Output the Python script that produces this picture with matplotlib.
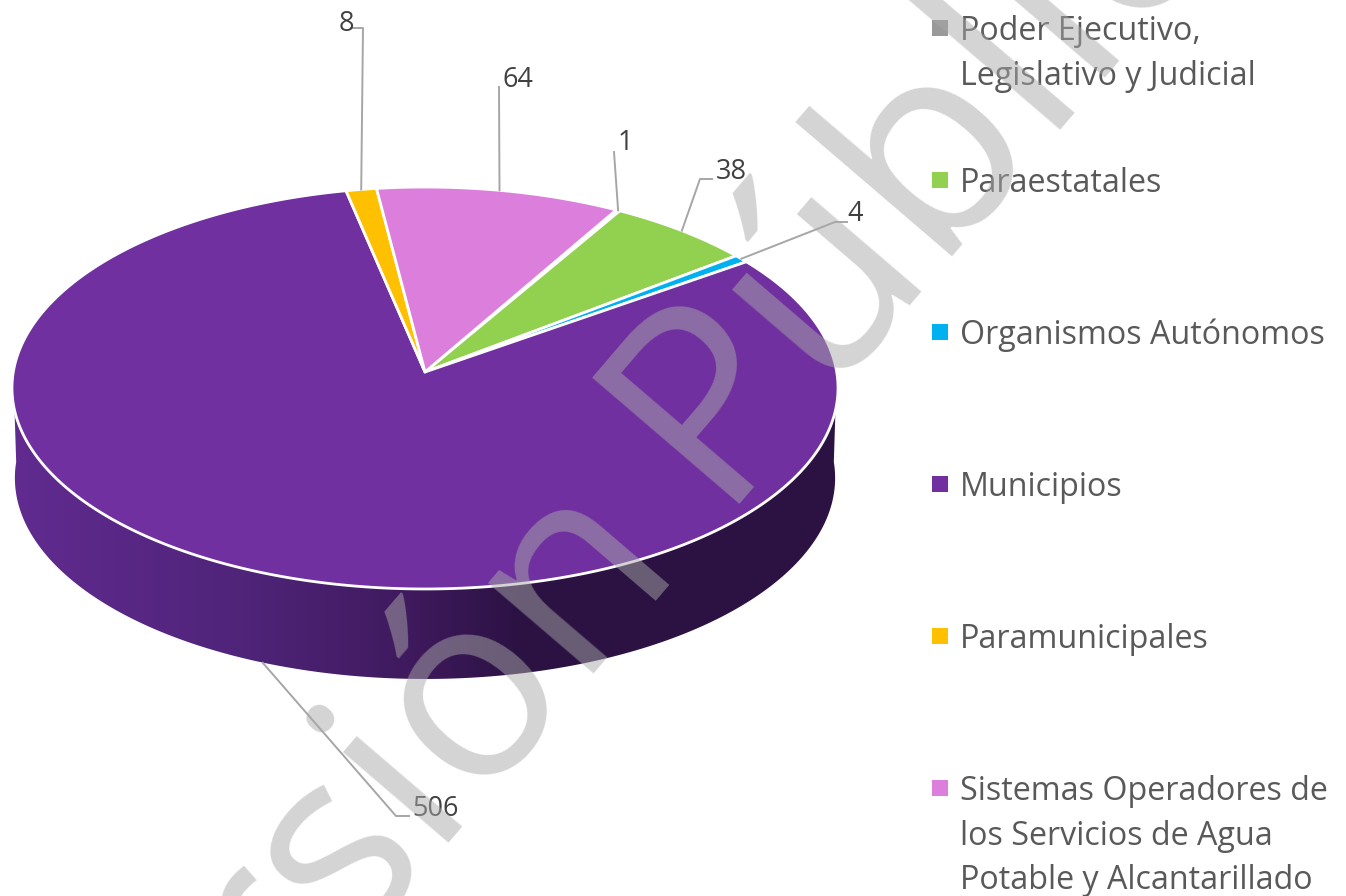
### Entidades por tipo: pastel 3D con marca de agua
import numpy as np
import matplotlib
matplotlib.use("Agg")
import matplotlib.pyplot as plt
from matplotlib.colors import LinearSegmentedColormap
from matplotlib.patches import Polygon

### Datos
categorias = ["Poder Ejecutivo,\nLegislativo y Judicial", "Paraestatales", "Organismos Autónomos",
              "Municipios", "Paramunicipales",
              "Sistemas Operadores de\nlos Servicios de Agua\nPotable y Alcantarillado"]
valores = np.array([1, 38, 4, 506, 8, 64])
etiquetas = ["1", "38", "4", "506", "8", "64"]
colores = ["#999999", "#92d050", "#00b0f0", "#7030a0", "#ffc000", "#dc7fdc"]

### Geometría del pastel (pixeles)
CX, CY = 425, 372
A, B, K = 411.7, 199.7, 0.0796
PROF = 90
INICIO = 29.8  # grados, sentido horario desde arriba

# posición del texto de cada etiqueta y codo de su línea guía
pos_texto = [(625, 143), (731, 172), (855, 214), (435, 809), (346, 24), (518, 80)]
codos = [[(614, 152)], [(700, 179), (712, 179)], [(835, 222), (847, 222)],
         [(396, 816), (409, 816)], [(363, 28), (351, 28)], [(499, 87)]]


def proyecta(grados, escala=1.0, dy=0.0):
    t = np.radians(grados)
    u, v = np.sin(t), np.cos(t)
    d = 1 + K * v
    return CX + escala * A * u / d, CY - B * v / d + dy


fig = plt.figure(figsize=(13.46, 8.96), dpi=100)
ax = fig.add_axes([0, 0, 1, 1])
plt.rcParams["font.family"] = ["Open Sans", "DejaVu Sans"]

### Pared lateral con degradado
arco = np.linspace(90, 270, 400)
xs, ys = proyecta(arco)
xb, yb = proyecta(arco, 0.993, PROF)
pared = Polygon(np.column_stack([np.r_[xs, xb[::-1]], np.r_[ys, yb[::-1]]]), closed=True,
                facecolor="none", edgecolor="none", transform=ax.transData)
ax.add_patch(pared)
degradado = LinearSegmentedColormap.from_list("lado", [(0, "#2b1242"), (0.38, "#2b1242"), (0.52, "#3f1a5e"),
                                                       (0.72, "#4f2479"), (1, "#612b90")])
img = ax.imshow(np.linspace(0, 1, 256)[None, :], extent=(838, 12, 700, 380), cmap=degradado,
                aspect="auto", zorder=1)
img.set_clip_path(pared)

### Rebanadas
fin = INICIO + np.cumsum(valores) / valores.sum() * 360
ini = np.r_[INICIO, fin[:-1]]
for a0, a1, c in zip(ini, fin, colores):
    t = np.linspace(a0, a1, max(int((a1 - a0) * 4), 2))
    px, py = proyecta(t)
    ax.fill(np.r_[CX, px], np.r_[CY, py], facecolor=c, edgecolor="white", linewidth=2.0, zorder=2,
            joinstyle="round")

### Etiquetas y líneas guía
for i, txt in enumerate(etiquetas):
    medio = (ini[i] + fin[i]) / 2
    x0, y0 = proyecta(medio, dy=PROF if categorias[i] == "Municipios" else 0)
    camino = [(x0, y0)] + codos[i]
    ax.plot([p[0] for p in camino], [p[1] for p in camino], color="#a6a6a6", linewidth=1.4, zorder=3)
    ax.text(pos_texto[i][0], pos_texto[i][1], txt, color="#404040", fontsize=19.5, ha="center", va="center", zorder=4)

### Leyenda
for i, nombre in enumerate(categorias):
    y = 28 + i * 152
    ax.scatter([939.5], [y], marker="s", s=117, color=colores[i], linewidths=0, zorder=4)
    for j, linea in enumerate(nombre.split("\n")):
        ax.text(960, y + 12 + j * 44.6, linea, color="#595959", fontsize=23.2, ha="left", va="baseline", zorder=4)

### Marca de agua
ax.text(88, 1264, "Versión", color="#a9a9a9", alpha=0.5, fontsize=188, rotation=49.4,
        rotation_mode="anchor", ha="left", va="baseline", zorder=10, clip_on=True)
ax.text(713, 504, "Pública", color="#a9a9a9", alpha=0.5, fontsize=196, rotation=49.4,
        rotation_mode="anchor", ha="left", va="baseline", zorder=10, clip_on=True)

ax.set_xlim(0, 1346)
ax.set_ylim(896, 0)
ax.axis("off")
fig.savefig("out.png", dpi=100, facecolor="white")
